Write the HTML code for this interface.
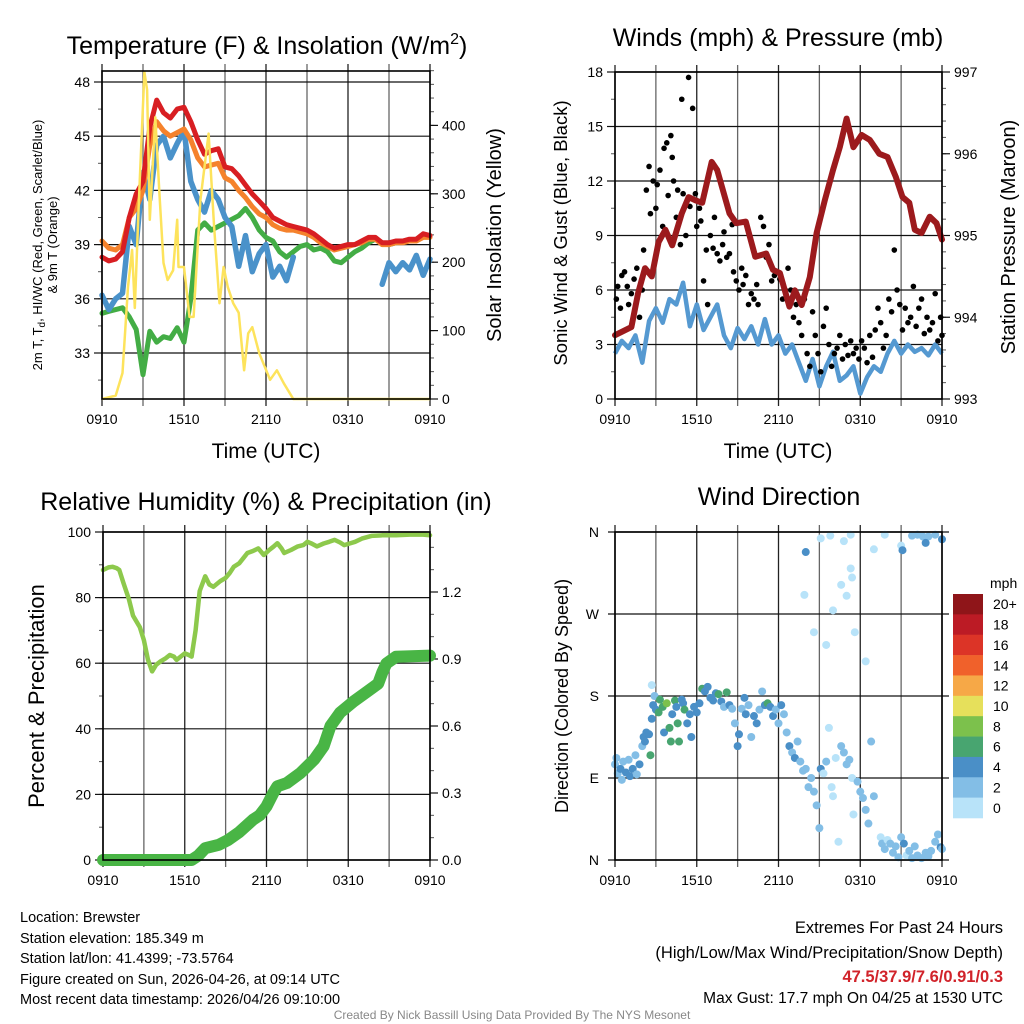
<!DOCTYPE html>
<html><head><meta charset="utf-8"><style>
html,body{margin:0;padding:0;background:#fff;}
svg{display:block;font-family:"Liberation Sans",Arial,sans-serif;}
</style></head><body>
<svg id="chart" xmlns="http://www.w3.org/2000/svg" width="1024" height="1024" viewBox="0 0 1024 1024">
<rect x="0" y="0" width="1024" height="1024" fill="#fff"/>
<text x="267" y="54" font-size="25" text-anchor="middle">Temperature (F) &amp; Insolation (W/m<tspan dy="-10" font-size="16">2</tspan><tspan dy="10">)</tspan></text>
<text x="778" y="46" font-size="25" text-anchor="middle">Winds (mph) &amp; Pressure (mb)</text>
<text x="266" y="510" font-size="25" text-anchor="middle">Relative Humidity (%) &amp; Precipitation (in)</text>
<text x="779" y="505" font-size="25" text-anchor="middle">Wind Direction</text>
<text x="266" y="458" font-size="21" text-anchor="middle">Time (UTC)</text>
<text x="778" y="458" font-size="21" text-anchor="middle">Time (UTC)</text>
<text transform="translate(42,245) rotate(-90)" font-size="13" text-anchor="middle">2m T, T<tspan dy="3" font-size="10">d</tspan><tspan dy="-3">, HI/WC (Red, Green, Scarlet/Blue)</tspan></text>
<text transform="translate(57,245) rotate(-90)" font-size="13" text-anchor="middle">&amp; 9m T (Orange)</text>
<text transform="translate(501,235) rotate(-90)" font-size="20" text-anchor="middle">Solar Insolation (Yellow)</text>
<text transform="translate(567,233) rotate(-90)" font-size="18.5" text-anchor="middle">Sonic Wind &amp; Gust (Blue, Black)</text>
<text transform="translate(1015,237) rotate(-90)" font-size="20" text-anchor="middle">Station Pressure (Maroon)</text>
<text transform="translate(44,696) rotate(-90)" font-size="22" text-anchor="middle">Percent &amp; Precipitation</text>
<text transform="translate(568,696) rotate(-90)" font-size="18" text-anchor="middle">Direction (Colored By Speed)</text>
<g font-size="14.5">
<text x="20" y="922">Location: Brewster</text>
<text x="20" y="943">Station elevation: 185.349 m</text>
<text x="20" y="963">Station lat/lon: 41.4399; -73.5764</text>
<text x="20" y="984">Figure created on Sun, 2026-04-26, at 09:14 UTC</text>
<text x="20" y="1004">Most recent data timestamp: 2026/04/26 09:10:00</text>
</g>
<g text-anchor="end">
<text x="1003" y="933" font-size="16.5">Extremes For Past 24 Hours</text>
<text x="1003" y="958" font-size="16.5">(High/Low/Max Wind/Precipitation/Snow Depth)</text>
<text x="1003" y="982" font-size="16.5" font-weight="bold" fill="#d1232a">47.5/37.9/7.6/0.91/0.3</text>
<text x="1003" y="1003" font-size="15.5">Max Gust: 17.7 mph On 04/25 at 1530 UTC</text>
</g>
<text x="512" y="1019" font-size="12" fill="#888" text-anchor="middle">Created By Nick Bassill Using Data Provided By The NYS Mesonet</text>
</svg>
<script>
// ---------- DATA ----------
const timeTickLabels=['0910','1510','2110','0310','0910'];
const timeTickHours=[0,6,12,18,24];
const halfHours=[0,0.5,1,1.5,2,2.5,3,3.5,4,4.5,5,5.5,6,6.5,7,7.5,8,8.5,9,9.5,10,10.5,11,11.5,12,12.5,13,13.5,14,14.5,15,15.5,16,16.5,17,17.5,18,18.5,19,19.5,20,20.5,21,21.5,22,22.5,23,23.5,24];
const temp2m=[38.3,38.1,38.2,38.6,40.5,41.8,42.5,45.5,47.0,46.3,46.0,46.5,46.6,45.8,44.8,44.0,44.2,44.3,43.3,43.2,42.8,42.3,41.8,41.4,41.0,40.5,40.3,40.1,40.0,39.9,39.8,39.6,39.3,39.0,38.8,38.9,39.0,39.0,39.2,39.4,39.4,39.1,39.1,39.2,39.2,39.3,39.3,39.6,39.5];
const temp9m=[39.2,38.8,38.7,39.0,40.5,41.0,42.0,44.5,45.8,45.3,45.0,45.2,45.4,44.8,43.8,43.3,43.4,43.5,42.7,42.5,42.0,41.6,41.1,40.7,40.5,40.1,39.9,39.8,39.8,39.7,39.6,39.4,39.1,38.9,38.7,38.8,38.9,39.0,39.1,39.3,39.3,39.0,39.0,39.1,39.1,39.2,39.2,39.4,39.4];
const dewpoint=[35.2,35.3,35.4,35.5,35.0,34.3,31.8,34.2,33.6,33.9,33.8,34.4,33.6,36.0,39.8,40.2,39.8,40.0,40.2,40.4,40.6,41.0,40.5,39.8,39.4,39.2,38.6,38.3,38.6,38.9,39.0,38.7,38.8,38.6,38.1,38.0,38.3,38.6,38.8,39.1,39.3,39.1,39.0,39.1,39.2,39.2,39.3,39.5,39.5];
const windChill=[36.2,35.4,36.0,36.3,40.0,39.0,43.0,41.5,44.5,45.0,43.8,44.6,45.3,42.5,41.5,40.8,42.0,41.5,40.5,40.0,37.8,39.5,37.5,38.5,39.0,37.2,37.8,37.0,38.3,null,null,null,null,null,null,null,null,null,null,null,null,36.8,38.0,37.5,38.0,37.6,38.4,37.3,38.2];
const solarHours=[0,1,1.5,1.9,2.2,2.4,2.7,3.1,3.3,3.5,3.9,4.2,4.5,4.8,5.2,5.5,5.6,6.0,6.4,6.7,7.2,7.8,8.2,8.6,8.9,9.2,9.6,10.0,10.4,10.7,11.0,11.5,12.3,12.8,13.3,14,24];
const solarValues=[0,5,38,164,218,133,290,478,452,262,412,301,199,174,188,262,193,193,120,120,291,388,252,140,193,164,140,126,42,96,105,67,28,42,23,0,0];
const sonicWind=[2.5,3.2,2.8,3.5,2.0,4.3,5.0,4.2,5.5,5.2,6.4,4.0,5.2,3.8,4.5,5.2,3.5,2.8,3.9,3.3,4.0,3.0,4.4,3.0,3.5,2.5,3.0,2.0,1.0,2.2,0.7,1.8,2.6,1.0,1.3,1.8,0.3,1.2,1.8,1.5,2.5,3.2,2.5,3.0,2.6,2.8,2.4,3.0,2.5];
const pressureHours=[0,1.2,1.7,2.2,2.7,3.2,3.7,4.2,4.9,5.4,5.9,6.4,7.1,7.5,8.4,8.9,9.6,10.3,11.1,11.6,12.1,12.8,13.2,13.7,14.3,14.8,15.4,16.0,16.5,17.0,17.5,18.1,18.7,19.4,20.0,20.6,21.1,21.6,22.0,22.5,23.1,23.6,24];
const pressureValues=[993.78,993.88,994.3,994.6,994.5,994.92,995.07,994.88,995.27,995.47,995.43,995.4,995.9,995.8,995.27,995.15,995.17,994.74,994.78,994.58,994.54,994.13,994.33,994.15,994.49,995.03,995.43,995.8,996.08,996.43,996.08,996.23,996.17,996.0,995.96,995.72,995.47,995.4,995.07,995.03,995.23,995.15,994.95];
const gustHours=[0.1,0.2,0.4,0.5,0.7,0.9,1.0,1.2,1.4,1.6,1.8,2.0,2.1,2.3,2.5,2.6,2.8,3.0,3.1,3.3,3.5,3.6,3.8,3.9,4.1,4.2,4.3,4.5,4.6,4.8,4.9,5.0,5.2,5.4,5.5,5.7,5.9,6.0,6.2,6.3,6.5,6.7,6.8,7.0,7.2,7.3,7.5,7.7,7.9,8.0,8.2,8.4,8.6,8.7,8.9,9.1,9.3,9.4,9.6,9.8,10.0,10.2,10.4,10.5,10.7,10.9,11.1,11.3,11.5,11.7,11.9,12.1,12.3,12.5,12.7,12.9,13.1,13.3,13.5,13.7,13.9,14.1,14.3,14.5,14.7,14.9,15.1,15.3,15.5,15.7,15.9,16.1,16.3,16.5,16.7,16.9,17.1,17.3,17.5,17.7,17.9,18.1,18.3,18.5,18.7,18.9,19.1,19.3,19.5,19.7,19.9,20.1,20.3,20.5,20.7,20.9,21.1,21.3,21.5,21.7,21.9,22.1,22.3,22.5,22.7,22.9,23.1,23.3,23.5,23.7,23.9,24.0];
const gustValues=[5.5,6.2,5.0,6.8,7.0,6.2,5.2,5.8,6.6,7.2,4.5,6.0,8.2,11.5,12.8,10.2,12.0,10.5,11.8,12.6,9.5,13.8,14.1,11.2,14.5,13.3,12.0,10.0,11.5,8.5,16.5,11.3,9.0,17.7,10.6,16.0,11.3,9.5,10.5,9.8,6.5,8.2,5.2,9.0,8.3,10.0,8.0,7.6,8.5,9.2,7.8,8.0,9.6,7.0,6.5,6.0,7.2,6.3,6.8,5.2,5.8,5.5,6.3,5.2,10.0,9.5,7.8,8.5,6.5,6.8,7.0,6.6,5.5,6.0,7.2,6.0,4.5,5.2,4.2,3.5,5.5,2.5,1.8,4.8,3.5,2.5,1.5,4.0,5.0,3.0,1.8,2.5,2.8,3.5,2.2,3.0,2.4,3.2,2.5,2.8,2.2,3.2,2.8,2.0,3.5,2.3,3.8,5.0,4.2,2.8,3.5,5.5,4.8,8.2,6.0,5.2,3.8,5.0,4.2,4.5,6.2,4.0,5.0,5.5,3.6,4.5,3.8,4.2,5.8,3.2,4.5,3.5];
const rhValues=[88.4,89.2,89.4,89.0,88.4,84.5,79.5,74.5,71.0,67.0,61.0,57.5,59.5,60.5,61.5,62.5,62.0,61.0,62.0,63.0,62.5,62.0,70.0,82.0,86.5,84.0,83.3,85.0,86.0,87.5,89.4,90.5,92.0,93.6,94.2,95.0,93.0,94.5,95.5,96.6,95.0,93.6,94.5,95.6,96.0,97.0,96.5,95.6];
const rhHours=[0,0.4,0.7,1.0,1.2,1.5,1.9,2.2,2.7,3.0,3.3,3.6,3.9,4.2,4.6,4.9,5.2,5.4,5.7,6.0,6.3,6.5,6.8,7.1,7.5,7.8,8.1,8.6,9.0,9.3,9.6,10.0,10.3,10.6,11.0,11.4,11.8,12.2,12.5,12.8,13.1,13.3,13.8,14.3,14.7,15.0,15.3,15.7];
const rhHoursTail=[16.2,16.6,17.0,17.4,17.7,18.1,18.5,19.0,19.7,20.5,21.5,22.5,23.5,24];
const rhValuesTail=[96.5,97.0,97.6,96.8,96.0,96.5,97.0,98.0,98.8,99.0,99.0,99.2,99.2,99.0];
const precipHours=[0,6.5,7.0,7.5,8.5,9.2,10.0,11.0,11.5,12.0,12.5,12.8,13.5,14.5,15.5,16.2,16.7,17.4,18.4,19.3,20.2,20.5,20.8,21.5,24];
const precipValues=[0,0,0.02,0.053,0.068,0.09,0.125,0.18,0.2,0.24,0.3,0.33,0.345,0.39,0.45,0.51,0.6,0.66,0.71,0.75,0.79,0.84,0.88,0.91,0.915];
const dirHours=[0,0.1,0.2,0.4,0.5,0.6,0.8,1.0,1.1,1.3,1.5,1.6,1.8,2.0,2.1,2.2,2.3,2.5,2.6,2.7,2.8,2.9,3.0,3.2,3.3,3.5,3.6,3.8,4.0,4.1,4.2,4.4,4.5,4.6,4.7,4.9,5.0,5.1,5.3,5.5,5.6,5.8,6.0,6.2,6.4,6.6,6.8,7.0,7.2,7.4,7.6,7.8,8.0,8.2,8.4,8.6,8.8,9.0,9.1,9.3,9.5,9.6,9.8,10.0,10.2,10.4,10.6,10.8,11.0,11.2,11.4,11.6,11.8,12.0,12.2,12.4,12.6,12.8,13.0,13.2,13.4,13.6,13.8,14.0,14.2,14.4,14.6,14.8,15.0,15.1,15.3,15.5,15.7,15.9,16.0,16.2,16.4,16.6,16.8,17.0,17.2,17.4,17.5,17.8,18.0,18.2,18.4,18.6,18.8,19.0,19.5,19.6,19.8,20.0,20.2,20.4,20.6,20.8,21.0,21.2,21.4,21.6,21.8,22.0,22.2,22.5,22.8,23.0,23.2,23.5,23.7,23.9,24.0,2.7,14.0,15.1,15.8,13.9,14.6,15.5,16.0,16.8,17.3,17.3,17.4,17.0,16.6,17.6,18.4,19.0,21.0,19.8,21.1,21.8,22.2,22.6,23.0,23.5,24.0,22.8];
const dirDegrees=[105,112,95,100,88,108,96,110,92,100,115,94,105,125,135,130,140,138,115,155,170,180,165,162,176,168,140,172,145,130,160,175,168,150,130,176,172,165,150,160,135,168,162,172,188,185,190,178,175,183,182,174,168,184,170,166,150,125,138,166,178,160,170,135,158,150,165,185,170,172,168,158,165,150,170,160,140,125,118,112,130,108,98,100,80,90,75,60,35,100,95,108,145,80,70,112,20,125,118,105,110,90,50,86,75,68,55,40,130,70,25,18,12,22,18,8,15,3,25,18,5,10,2,15,5,2,8,4,10,20,28,14,12,192,338,353,356,291,250,236,274,350,357,320,310,290,302,250,218,341,345,357,340,356,357,355,355,357,352,348];
const dirSpeeds=[3,2.5,3,4,2.5,3.5,4.2,3,4.5,4,3,2.5,4,3.5,4.5,4,4.5,4.2,6.5,4.5,4.5,2,4.2,6.5,7,7,4.5,8.5,6.5,6.5,4.5,6.5,4.2,6.5,6.5,4.5,5,6.5,4.5,4.2,4.5,4.2,4.5,4.2,6.5,5,4.2,4.5,4.2,5,6.5,4.2,3.5,6.5,4.2,3.5,3.5,4.5,4.2,3.5,5,4,3.5,3.5,4.5,4.2,3.5,3.5,4.5,6.5,4.5,4.2,3.5,3.5,4.5,3.5,2.5,4.2,3.5,4.5,2.5,3.5,2.5,3,2.5,3,3.5,3,2.5,4,1.5,3,1.5,1.5,1.5,1.5,1,2,3.5,3,3.8,1.5,1,3,2.5,2,2.5,2,3,2,1.5,3,2.5,1.5,2.5,3,2.5,3,3,4.2,1.5,2.5,2.5,3,2.5,2,3,2.5,2,3,3,4.2,3,1,4.5,1,1,1,1,1,1,1,1,1,1,1,1,1,1,1,1.5,1,4,2.5,2.5,3,3,2.5,4,4];
const speedBinLabels=['20+','18','16','14','12','10','8','6','4','2','0'];
const speedBinColors=['#8f1519','#bc1b25','#dc3427','#f0612b','#f6a847','#e6e05b','#7cc14c','#48a570','#4a8fc7','#83bee6','#b8e3f9'];
const tempTicks=[33,36,39,42,45,48];
const solarTicks=[0,100,200,300,400];
const windTicks=[0,3,6,9,12,15,18];
const pressTicks=[993,994,995,996,997];
const rhTicks=[0,20,40,60,80,100];
const precipTicks=[0.0,0.3,0.6,0.9,1.2];
const dirTickLabels=['N','E','S','W','N'];
const dirTickDegrees=[0,90,180,270,360];

// ---------- HELPERS ----------
const NS='http://www.w3.org/2000/svg';
const svg=document.getElementById('chart');
function mk(tag,attrs,parent){const e=document.createElementNS(NS,tag);for(const k in attrs)e.setAttribute(k,attrs[k]);(parent||svg).appendChild(e);return e;}
function lineD(xs,ys,sx,sy){let d='',pen=false;for(let i=0;i<xs.length;i++){if(ys[i]===null){pen=false;continue;}d+=(pen?'L':'M')+sx(xs[i]).toFixed(1)+','+sy(ys[i]).toFixed(1);pen=true;}return d;}
function speedColor(s){const idx=Math.min(10,Math.floor(s/2));return speedBinColors[10-idx];}

function frame(name,x0,x1,y0,y1,sx){
  const g=mk('g',{});
  
  
  for(let h=0;h<=24;h+=3){
    const ln=mk('line',{x1:sx(h),x2:sx(h),y1:y0-7,y2:y1+7,stroke:(h%6===0?'#222':'#666'),'stroke-width':1.3},g);
    
    
  }
  for(let i=0;i<timeTickHours.length;i++){
    const t=mk('text',{x:sx(timeTickHours[i]),y:y1+25,'font-size':14,'text-anchor':'middle'},g);
    t.textContent=timeTickLabels[i];
    
    
  }
  return g;
}
function yAxis(name,g,ticks,sy,xEdge,dir,minorStep,lo,hi,y0,y1,grid,x0,x1,fmt){
  for(let v=lo;v<=hi+1e-9;v+=minorStep){const y=sy(v);if(y<y0-0.5||y>y1+0.5)continue;
    const m=mk('line',{x1:xEdge,x2:xEdge+dir*4,y1:y,y2:y,stroke:'#555','stroke-width':1},g);
    
    }
  for(let i=0;i<ticks.length;i++){const y=sy(ticks[i]);
    if(grid){const gl=mk('line',{x1:x0,x2:x1,y1:y,y2:y,stroke:'#111','stroke-width':1.2},g);
      
      }
    const tk=mk('line',{x1:xEdge,x2:xEdge+dir*8,y1:y,y2:y,stroke:'#111','stroke-width':1.2},g);
    
    
    const t=mk('text',{x:xEdge+dir*12,y:y+5,'font-size':14,'text-anchor':dir<0?'end':'start'},g);
    t.textContent=fmt?fmt(ticks[i]):ticks[i];
    
    }
}
function box(g,x0,x1,y0,y1,name){const r=mk('rect',{x:x0,y:y0,width:x1-x0,height:y1-y0,fill:'none',stroke:'#000','stroke-width':1.6},g);
  
  }

// ---------- PANEL 1 ----------
{
const x0=102,x1=430,y0=71,y1=399;
const sx=t=>x0+t*(x1-x0)/24, sy=v=>82+(48-v)*(271/15), ss=v=>399-v*0.684;
const g=frame('temp',x0,x1,y0,y1,sx);
yAxis('temp-left',g,tempTicks,sy,x0,-1,1.5,31.5,48.5,y0,y1,true,x0,x1);
yAxis('solar-right',g,solarTicks,ss,x1,1,20,0,480,y0,y1,false);
const series=[[dewpoint,'#43ad45','dewpoint-line',5],[windChill,'#4a92ca','wind-chill-line',5.5],[temp9m,'#f5822c','temp-9m-line',5],[temp2m,'#d81e22','temp-2m-line',5]];
for(const s of series){const p=mk('path',{d:lineD(halfHours,s[0],sx,sy),fill:'none',stroke:s[1],'stroke-width':s[3],'stroke-linejoin':'round','stroke-linecap':'round'},g);
  
  }
const sp=mk('path',{d:lineD(solarHours,solarValues,sx,ss),fill:'none',stroke:'#fde35c','stroke-width':2.5,'stroke-linejoin':'round'},g);


box(g,x0,x1,y0,y1,'temp');
}
// ---------- PANEL 2 ----------
{
const x0=615,x1=942,y0=72,y1=399;
const sx=t=>x0+t*(x1-x0)/24, sw=v=>y1-v*(327/18), sp=p=>y1-(p-993)*(327/4);
const g=frame('wind',x0,x1,y0,y1,sx);
yAxis('wind-left',g,windTicks,sw,x0,-1,1.5,0,18,y0,y1,true,x0,x1);
yAxis('pressure-right',g,pressTicks,sp,x1,1,0.2,993,997,y0,y1,false);
const wl=mk('path',{d:lineD(halfHours,sonicWind,sx,sw),fill:'none',stroke:'#5599d1','stroke-width':4.5,'stroke-linejoin':'round'},g);


for(let i=0;i<gustHours.length;i++){const c=mk('circle',{cx:sx(gustHours[i]),cy:sw(gustValues[i]),r:2.8,fill:'#000'},g);
  
  }
const pl=mk('path',{d:lineD(pressureHours,pressureValues,sx,sp),fill:'none',stroke:'#9c1a1d','stroke-width':6,'stroke-linejoin':'round','stroke-linecap':'round'},g);


box(g,x0,x1,y0,y1,'wind');
}
// ---------- PANEL 3 ----------
{
const x0=103,x1=430,y0=532,y1=860;
const sx=t=>x0+t*(x1-x0)/24, sr=v=>y1-v*3.28, sq=v=>y1-v*(201/0.9);
const g=frame('rh',x0,x1,y0,y1,sx);
yAxis('rh-left',g,rhTicks,sr,x0,-1,10,0,100,y0,y1,true,x0,x1);
yAxis('precip-right',g,precipTicks,sq,x1,1,0.1,0,1.45,y0,y1,false,0,0,v=>v.toFixed(1));
const pq=mk('path',{d:lineD(precipHours,precipValues,sx,sq),fill:'none',stroke:'#49b545','stroke-width':12,'stroke-linejoin':'round','stroke-linecap':'round'},g);


const allH=rhHours.concat(rhHoursTail), allV=rhValues.concat(rhValuesTail);
const rl=mk('path',{d:lineD(allH,allV,sx,sr),fill:'none',stroke:'#8dc94c','stroke-width':4.5,'stroke-linejoin':'round','stroke-linecap':'round'},g);


box(g,x0,x1,y0,y1,'rh');
}
// ---------- PANEL 4 ----------
{
const x0=615,x1=942,y0=532,y1=860;
const sx=t=>x0+t*(x1-x0)/24, sd=d=>y1-d*(328/360);
const g=frame('dir',x0,x1,y0,y1,sx);
for(let i=0;i<dirTickDegrees.length;i++){const y=sd(dirTickDegrees[i]);
  const gl=mk('line',{x1:x0-7,x2:x1+7,y1:y,y2:y,stroke:'#111','stroke-width':1.2},g);
  
  
  const t=mk('text',{x:x0-16,y:y+5,'font-size':14,'text-anchor':'end'},g);
  t.textContent=dirTickLabels[i];
  
  }
for(let i=0;i<dirHours.length;i++){const c=mk('circle',{cx:sx(dirHours[i]),cy:sd(dirDegrees[i]),r:4,fill:speedColor(dirSpeeds[i])},g);
  
  }
box(g,x0,x1,y0,y1,'dir');
const lg=mk('g',{});


const mt=mk('text',{x:990,y:588,'font-size':14},lg);
mt.textContent='mph';


const bh=(818-594)/speedBinColors.length;
for(let i=0;i<speedBinColors.length;i++){
  const r=mk('rect',{x:953,y:594+i*bh,width:30,height:bh+0.3,fill:speedBinColors[i]},lg);
  
  
  const t=mk('text',{x:993,y:594+i*bh+bh/2+5,'font-size':14},lg);
  t.textContent=speedBinLabels[i];
  
  }
}
</script>
</body></html>
